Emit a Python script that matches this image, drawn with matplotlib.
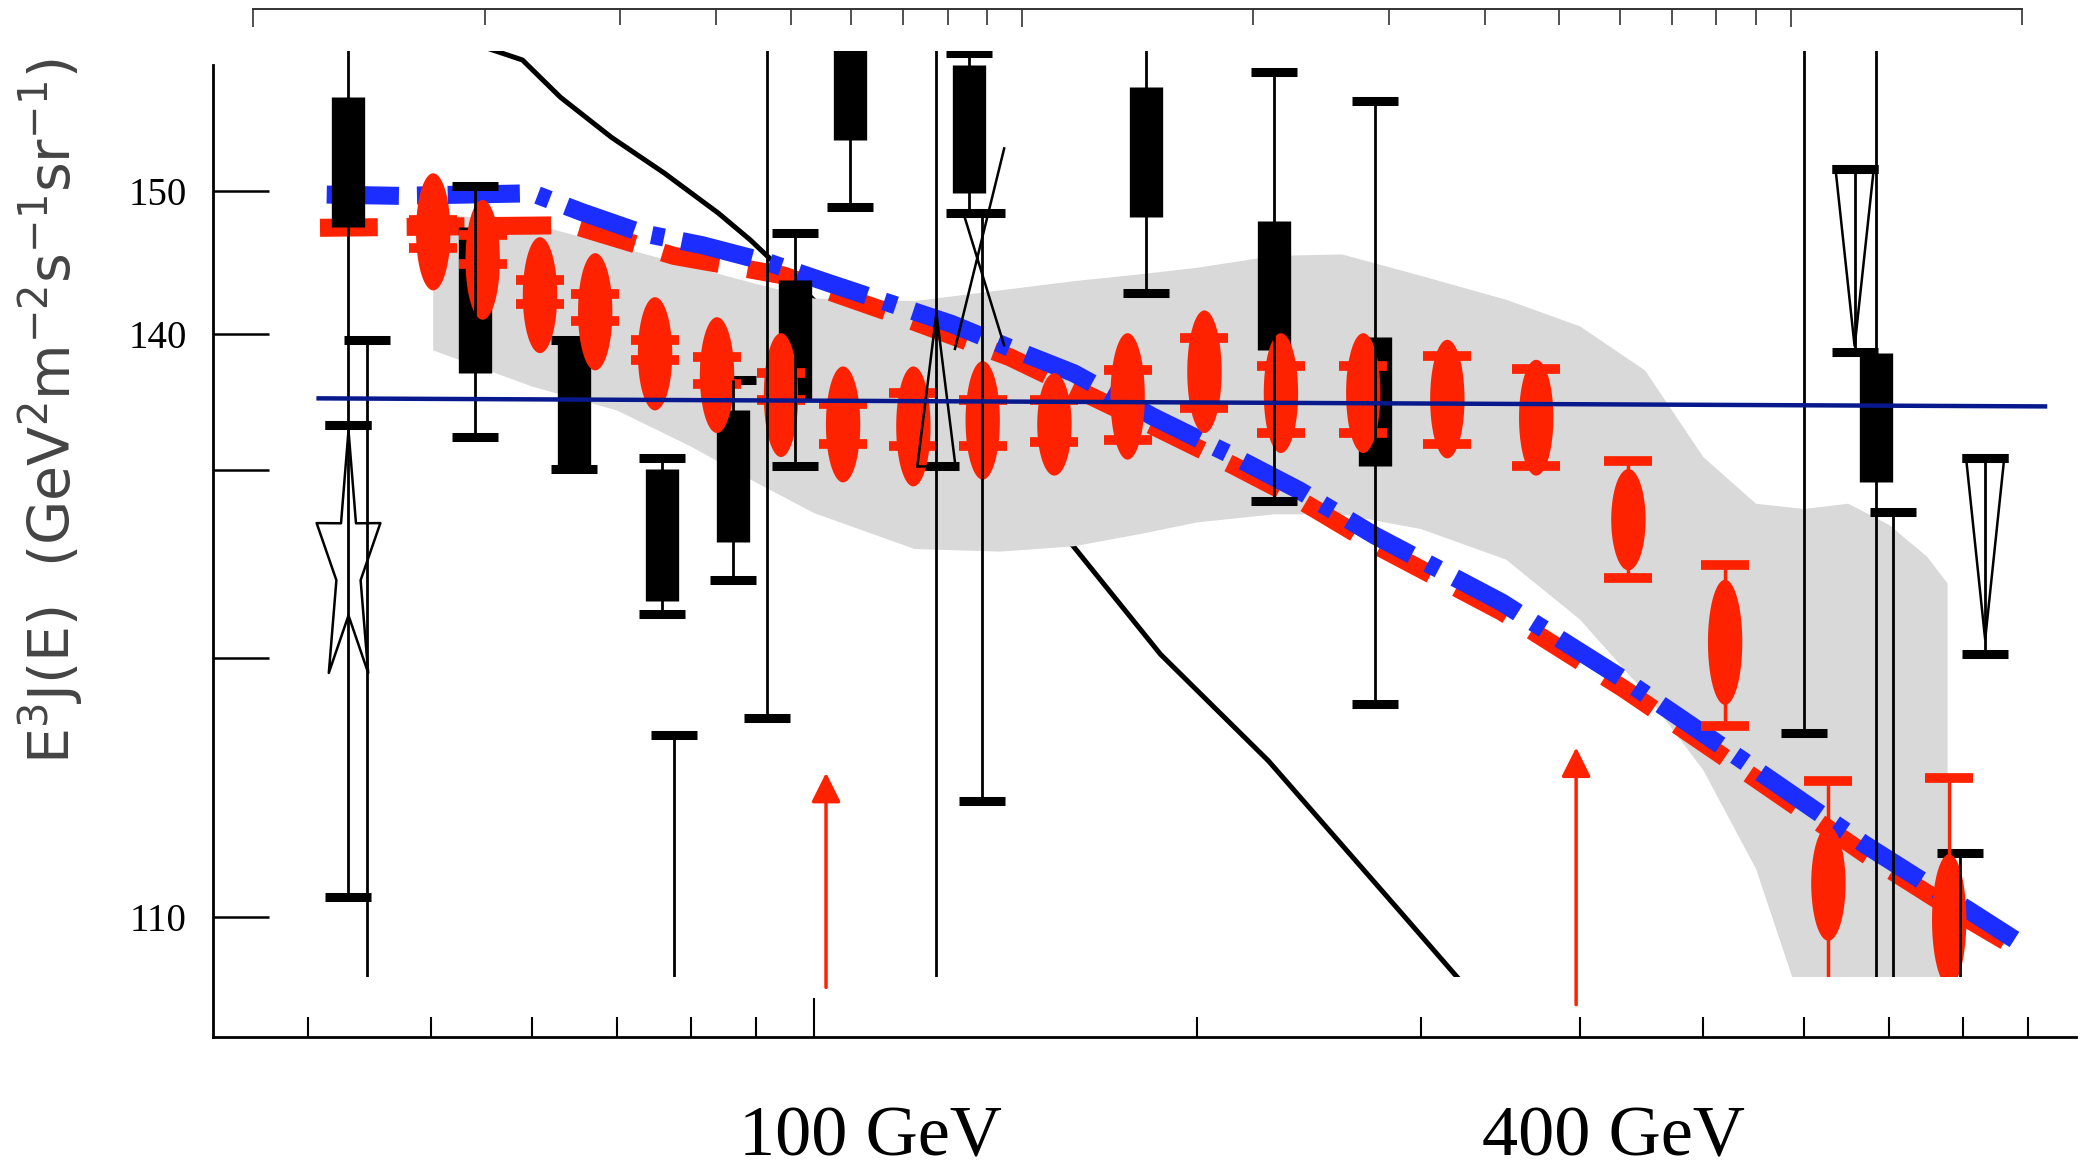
import numpy as np
import matplotlib
matplotlib.use('Agg')
import matplotlib.pyplot as plt
from matplotlib.path import Path
from matplotlib.ticker import FixedLocator, NullFormatter, NullLocator

# energy in GeV, flux as E^3 J(E)

# grey band
band_E = [50.2, 60, 70, 80, 90, 100, 120, 140, 160, 180, 200, 230, 260, 300,
          350, 400, 450, 500, 550, 600, 650, 700, 750, 778]
band_hi = [148.43, 147.69, 146.11, 144.72, 143.52, 142.50, 142.32, 143.06, 143.70,
           144.17, 144.63, 145.46, 145.56, 144.07, 142.41, 140.56, 137.50, 131.48,
           128.24, 127.87, 128.24, 126.76, 124.54, 122.69]
band_lo = [138.89, 136.39, 134.72, 132.22, 129.72, 127.59, 125.09, 124.91, 125.28,
           126.11, 126.94, 127.50, 127.50, 126.48, 124.35, 120.19, 115.09, 109.72,
           102.87, 92.9, 92.9, 92.9, 92.9, 92.9]

# broken power law fits
blue_E = [41.4, 47.2, 60.1, 65.6, 73.3, 81.7, 92.1, 102.4, 114.2, 128.2, 142.5, 160.0,
          184.9, 213.3, 240.6, 276.0, 347.0, 433.1, 539.4, 670.2, 811.0, 878.0]
blue_y = [149.72, 149.63, 149.81, 148.52, 147.04, 146.20, 145.00, 143.61, 142.22, 140.74,
          139.07, 137.31, 134.26, 131.57, 129.17, 126.02, 121.39, 116.02, 110.28, 104.54,
          99.91, 97.96]
red_E = [40.9, 64.6, 77.6, 94.6, 114.2, 142.5, 184.9, 213.3, 240.6, 276.0, 347.0, 433.1,
         539.4, 670.2, 811.0, 863.2]
red_y = [147.41, 147.59, 145.46, 144.10, 141.57, 138.42, 133.61, 130.92, 128.52, 125.37,
         120.74, 115.37, 109.63, 103.89, 99.26, 97.85]

# flat fit
navy_E = [40.8, 928.0]
navy_y = [135.56, 135.00]

# steep model curve
curve_E = [55.7, 59.0, 63.2, 69.3, 76.3, 84.1, 89.1, 159.3, 187.2, 227.6, 288.8, 333.1]
curve_y = [159.81, 159.07, 156.48, 153.70, 151.20, 148.43, 146.57, 125.46, 117.78, 110.37,
           99.91, 93.61]

# red points: ellipse range and error range
pt_E = [50.2, 54.9, 60.9, 67.3, 75.0, 83.9, 94.2, 105.4, 119.7, 135.7, 154.5, 176.4,
        202.7, 232.8, 270.2, 314.6, 369.5, 436.6, 520.1, 627.0, 780.2]
ell_hi = [151.20, 149.35, 146.76, 145.65, 142.59, 141.20, 140.09, 137.78, 137.78, 138.15,
          137.31, 140.09, 141.67, 140.09, 140.09, 139.63, 138.24, 130.65, 122.96, 105.83, 103.89]
ell_lo = [143.06, 141.02, 138.70, 137.50, 134.72, 133.15, 131.48, 129.72, 129.44, 129.91,
          130.19, 131.30, 133.15, 131.76, 131.76, 131.39, 130.19, 123.61, 114.26, 97.87, 94.72]
cap_hi = [147.96, 146.94, 143.80, 142.78, 139.63, 138.43, 137.31, 135.19, 135.93, 135.46,
          135.46, 137.50, 139.72, 137.78, 137.78, 138.52, 137.59, 131.20, 123.98, 108.98, 109.17]
cap_lo = [146.02, 144.91, 142.13, 140.93, 138.24, 136.57, 135.46, 132.41, 132.22, 132.22,
          132.50, 132.69, 134.91, 133.15, 133.15, 132.41, 130.83, 123.06, 112.78, 92.87, 92.87]

# black points with boxes
box_E = [43.0, 54.1, 64.8, 75.9, 86.3, 96.7, 106.7, 132.3, 182.2, 229.7, 276.0, 683.3]
box_hi = [156.53, 147.50, 139.63, 130.65, 134.72, 143.80, 162.0, 158.70, 157.22, 147.87,
          139.84, 138.70]
box_lo = [147.50, 137.31, 130.65, 121.48, 125.56, 135.46, 153.52, 149.81, 148.19, 138.89,
          130.83, 129.72]
box_err_hi = [162.0, 150.28, 139.63, 131.39, 136.85, 147.04, 162.0, 159.54, 162.0, 158.26,
              156.20, 162.0]
box_err_lo = [133.70, 132.87, 130.65, 120.56, 122.92, 130.83, 148.89, 148.43, 142.87, 128.43,
              114.31, 90.0]

# black error bars without boxes
bar_E = [43.0, 44.5, 77.6, 91.9, 124.8, 135.5, 599.8, 657.5, 705.1, 795.4, 832.7]
bar_hi = [133.70, 139.63, 112.18, 162.0, 162.0, 148.43, 162.0, 151.48, 127.63, 103.98, 131.42]
bar_lo = [100.93, 90.0, 90.0, 113.36, 90.0, 107.59, 112.32, 138.80, 90.0, 90.0, 117.82]

# open symbols
tri_E = [124.8, 657.5, 832.7]
tri_flat = [130.83, 151.48, 131.42]
tri_apex = [141.48, 139.17, 118.80]
star_E = [43.0]
star_y = [124.02]
cross_E = [134.8]
cross_y = [145.65]

# arrows
arrow_E = [102.2, 397.2]
arrow_tip = [109.54, 111.30]
arrow_base = [94.63, 93.43]

# axes
ytick_vals = [150, 140, 130.56, 117.5, 99.54]
ytick_labels = ['150', '140', '', '', '110']
xtick_major = [100]
xtick_minor = [40, 50, 60, 70, 80, 90, 200, 300, 400, 500, 600, 700, 800, 900]
top_major = [1, 10, 100]
top_minor = [2, 3, 4, 5, 6, 7, 8, 9, 20, 30, 40, 50, 60, 70, 80, 90, 200]
energy_labels = ['100 GeV', '400 GeV']
energy_label_E = [110.7, 424.9]
energy_label_y = [82.95, 82.95]

red = '#ff2200'
blue = '#1c2eff'
navy = '#07198c'
grey = '#d9d9d9'

fig = plt.figure(figsize=(20.89, 11.70), dpi=100)
ax_frame = fig.add_axes([0.10204, 0.11390, 0.89158, 0.83029])
ax = fig.add_axes([0.10204, 0.16515, 0.89158, 0.79157])
ax_top = fig.add_axes([0.12117, 0.96203, 0.84694, 0.03])

# frame with the visible axes
ax_frame.set_xscale('log')
ax_frame.set_xlim(33.71, 980.9)
ax_frame.set_ylim(91.20, 158.70)
ax_frame.spines[['top', 'right']].set_visible(False)
ax_frame.spines[['left', 'bottom']].set_linewidth(2)
ax_frame.xaxis.set_major_locator(FixedLocator(xtick_major))
ax_frame.xaxis.set_minor_locator(FixedLocator(xtick_minor))
ax_frame.xaxis.set_major_formatter(NullFormatter())
ax_frame.xaxis.set_minor_formatter(NullFormatter())
ax_frame.tick_params(axis='x', which='major', direction='in', length=28, width=1.5)
ax_frame.tick_params(axis='x', which='minor', direction='in', length=14.4, width=1.5)
ax_frame.set_yticks(ytick_vals)
ax_frame.set_yticklabels(ytick_labels, fontsize=28, fontfamily='Liberation Serif')
ax_frame.yaxis.set_minor_locator(NullLocator())
ax_frame.tick_params(axis='y', which='major', direction='in', length=40, width=1.8, pad=19)

for lab, e, y in zip(energy_labels, energy_label_E, energy_label_y):
    ax_frame.text(e, y, lab, ha='center', va='baseline', fontsize=52,
                  fontfamily='Liberation Serif', clip_on=False)

for e, tip, base in zip(arrow_E, arrow_tip, arrow_base):
    ax_frame.annotate('', xy=(e, tip), xytext=(e, base),
                      arrowprops=dict(arrowstyle='-|>', color=red, lw=2.5,
                                      mutation_scale=45, shrinkA=0, shrinkB=0))

fig.text(0.0242, 0.6486, r'E$^3$J(E)  (GeV$^2$m$^{-2}$s$^{-1}$sr$^{-1}$)',
         rotation=90, ha='center', va='center', fontsize=41, color='#444444')

# leftover axis at the top
ax_top.set_xscale('log')
ax_top.set_xlim(1, 200)
ax_top.patch.set_visible(False)
ax_top.spines[['left', 'right', 'bottom']].set_visible(False)
ax_top.spines['top'].set_linewidth(1.4)
ax_top.spines['top'].set_color('#333333')
ax_top.set_yticks([])
ax_top.xaxis.set_ticks_position('top')
ax_top.xaxis.set_major_locator(FixedLocator(top_major))
ax_top.xaxis.set_minor_locator(FixedLocator(top_minor))
ax_top.xaxis.set_major_formatter(NullFormatter())
ax_top.xaxis.set_minor_formatter(NullFormatter())
ax_top.tick_params(which='major', direction='in', length=13, width=1.2, color='#333333')
ax_top.tick_params(which='minor', direction='in', length=11.5, width=1.2, color='#333333')

# data area, clipped
ax.set_xscale('log')
ax.set_xlim(33.71, 980.9)
ax.set_ylim(95.37, 159.72)
ax.set_axis_off()

ax.plot(curve_E, curve_y, color='k', lw=3.6, zorder=1)
ax.fill(band_E + band_E[::-1], band_hi + band_lo[::-1], color=grey, lw=0, zorder=2)

ax.plot(red_E, red_y, color=red, lw=13, dashes=(3.2, 1.6), zorder=3)
ax.plot(blue_E, blue_y, color=blue, lw=13, dashes=(4.0, 1.0, 0.7, 1.0), zorder=3.1)

boxes = ax.vlines(box_E, box_lo, box_hi, color='k', lw=24, zorder=4)
boxes.set_capstyle('butt')
ax.plot(box_E * 2, box_err_hi + box_err_lo, ls='none', marker='_', ms=33.4, mew=6.5,
        color='k', zorder=4)
ax.plot(bar_E * 2, bar_hi + bar_lo, ls='none', marker='_', ms=33.4, mew=6.5,
        color='k', zorder=4)
ax.plot(tri_E, tri_flat, ls='none', marker='_', ms=33.4, mew=6.5, color='k', zorder=4)

# red points
t = np.linspace(0, 2 * np.pi, 80)
for e, lo, hi in zip(pt_E, ell_lo, ell_hi):
    ax.fill(e * 10 ** (0.0135 * np.cos(t)), (lo + hi) / 2 + (hi - lo) / 2 * np.sin(t),
            color=red, lw=0, zorder=5)
ax.vlines(pt_E, cap_lo, cap_hi, color=red, lw=2.5, zorder=5)
ax.plot(pt_E * 2, cap_lo + cap_hi, ls='none', marker='_', ms=34.6, mew=7,
        color=red, zorder=5)

# thin black error lines sit above the red
ax.vlines(box_E, box_err_lo, box_err_hi, color='k', lw=2, zorder=5.5)
ax.vlines(bar_E, bar_lo, bar_hi, color='k', lw=2, zorder=5.5)

for e, flat, apex in zip(tri_E, tri_flat, tri_apex):
    ax.fill([e * 10 ** -0.015, e * 10 ** 0.015, e], [flat, flat, apex],
            fill=False, edgecolor='k', lw=1.8, zorder=5.5)

star = Path.unit_regular_star(5, 0.38)
star = Path(star.vertices * [0.25, 1.0], star.codes)
ax.plot(star_E, star_y, ls='none', marker=star, ms=193, mfc='none', mec='k', mew=1.8,
        zorder=5.5)

cross = Path([(0.235, 1.0), (-0.234, -0.909), (-0.15, 0.375), (0.235, -0.875)],
             [Path.MOVETO, Path.LINETO, Path.MOVETO, Path.LINETO])
ax.plot(cross_E, cross_y, ls='none', marker=cross, ms=153, mfc='none', mec='k', mew=1.8,
        zorder=5.5)

ax.plot(navy_E, navy_y, color=navy, lw=3.2, zorder=6)

fig.savefig('out.png', dpi=100)
